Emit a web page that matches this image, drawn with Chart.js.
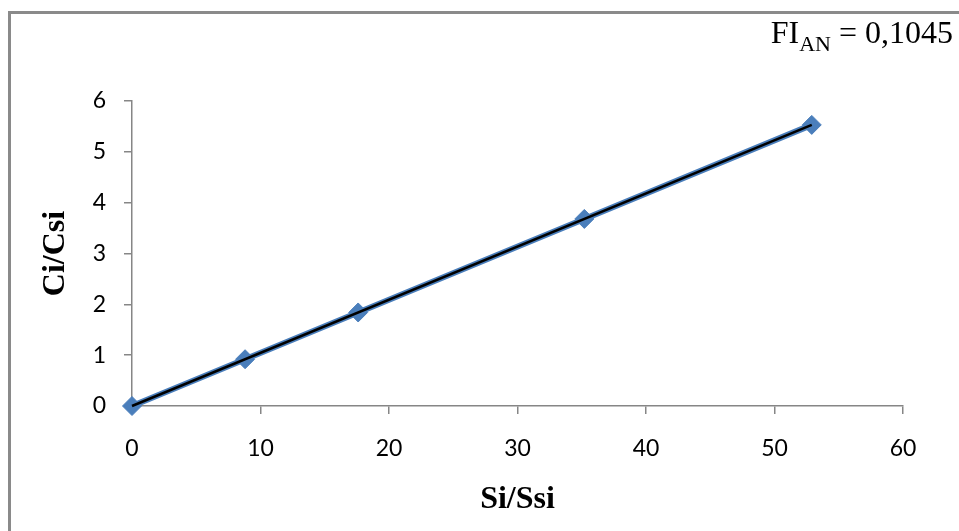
<!DOCTYPE html>
<html lang="en">
<head>
    <meta charset="UTF-8">
    <title>Ci/Csi vs Si/Ssi</title>
    <script src="https://cdn.jsdelivr.net/npm/chart.js"></script>
    <style>
        body {
            margin: 0;
            background: #ffffff;
            overflow: hidden;
        }

        #frame {
            position: absolute;
            left: 8px;
            top: 11px;
            width: 1000px;
            height: 600px;
            border-left: 3px solid #8a8a8a;
            border-top: 3px solid #8a8a8a;
        }

        #chart-box {
            position: absolute;
            left: 0;
            top: 0;
            width: 959px;
            height: 531px;
        }

        #note {
            position: absolute;
            right: 6px;
            top: 14px;
            font-family: "Liberation Serif", "Times New Roman", serif;
            font-size: 32px;
            color: #000;
            white-space: nowrap;
        }

        #note .sub {
            font-size: 22px;
            position: relative;
            top: 8px;
        }
    </style>
</head>
<body>
    <div id="frame"></div>
    <div id="chart-box">
        <canvas id="chart" width="959" height="531"></canvas>
    </div>
    <div id="note">FI<span class="sub">AN</span> = 0,1045</div>

    <script>
        // measured points
        const siSsi = [0, 8.8, 17.6, 35.2, 52.9];
        const ciCsi = [0, 0.92, 1.84, 3.68, 5.53];

        // linear trend line ends (slope 0,1045)
        const trendX = [0, 52.9];
        const trendY = [0, 5.53];

        // axis ranges
        const xTicks = [0, 10, 20, 30, 40, 50, 60];
        const yTicks = [0, 1, 2, 3, 4, 5, 6];

        const blue = '#4a7ebb';
        const axisGray = '#868686';

        const points = siSsi.map((x, i) => ({ x: x, y: ciCsi[i] }));
        const trend = trendX.map((x, i) => ({ x: x, y: trendY[i] }));

        const tickFont = { family: 'Lato', size: 23 };

        new Chart(document.getElementById('chart'), {
            type: 'scatter',
            data: {
                datasets: [
                    {
                        label: 'Trend',
                        data: trend,
                        showLine: true,
                        borderColor: '#000000',
                        borderWidth: 2.5,
                        pointRadius: 0,
                        clip: false,
                        order: 0
                    },
                    {
                        label: 'Ci/Csi',
                        data: points,
                        showLine: true,
                        borderColor: blue,
                        borderWidth: 6,
                        backgroundColor: blue,
                        pointStyle: 'rectRot',
                        pointRadius: 9.5,
                        pointBorderWidth: 1,
                        pointBorderColor: blue,
                        pointBackgroundColor: blue,
                        clip: false,
                        order: 1
                    }
                ]
            },
            options: {
                responsive: false,
                animation: false,
                layout: {
                    padding: { left: 0, top: 101, right: 56, bottom: 0 }
                },
                plugins: {
                    legend: { display: false },
                    tooltip: { enabled: false }
                },
                scales: {
                    x: {
                        type: 'linear',
                        min: xTicks[0],
                        max: xTicks[xTicks.length - 1],
                        afterBuildTicks: (scale) => {
                            scale.ticks = xTicks.map(v => ({ value: v }));
                        },
                        afterFit: (scale) => { scale.height = 125; },
                        grid: {
                            drawOnChartArea: false,
                            drawTicks: true,
                            tickLength: 8,
                            color: axisGray,
                            lineWidth: 1.5
                        },
                        border: { color: axisGray, width: 1.5 },
                        ticks: {
                            color: '#000',
                            font: tickFont,
                            padding: 21,
                            maxRotation: 0
                        },
                        title: {
                            display: true,
                            text: 'Si/Ssi',
                            color: '#000',
                            font: { family: 'Liberation Serif', size: 32, weight: 'bold' },
                            padding: { top: 0, bottom: 12 }
                        }
                    },
                    y: {
                        type: 'linear',
                        min: yTicks[0],
                        max: yTicks[yTicks.length - 1],
                        afterBuildTicks: (scale) => {
                            scale.ticks = yTicks.map(v => ({ value: v }));
                        },
                        afterFit: (scale) => { scale.width = 132; },
                        grid: {
                            drawOnChartArea: false,
                            drawTicks: true,
                            tickLength: 8,
                            color: axisGray,
                            lineWidth: 1.5
                        },
                        border: { color: axisGray, width: 1.5 },
                        ticks: {
                            color: '#000',
                            font: tickFont,
                            padding: 18
                        },
                        title: {
                            display: true,
                            text: 'Ci/Csi',
                            color: '#000',
                            font: { family: 'Liberation Serif', size: 32, weight: 'bold' },
                            padding: { top: 37, bottom: 0 }
                        }
                    }
                }
            }
        });
    </script>
</body>
</html>
